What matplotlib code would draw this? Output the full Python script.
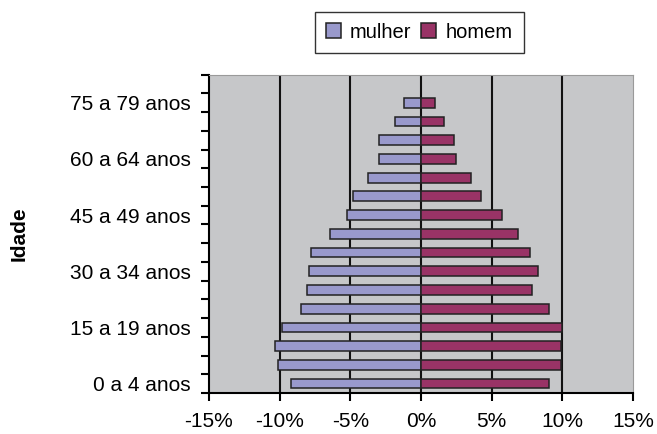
import numpy as np
from matplotlib import pyplot as plt

plt.rcParams['font.family'] = ['Liberation Sans', 'DejaVu Sans']

# faixas etarias (de baixo para cima)
idades = ['0 a 4 anos', '5 a 9 anos', '10 a 14 anos', '15 a 19 anos', '20 a 24 anos',
          '25 a 29 anos', '30 a 34 anos', '35 a 39 anos', '40 a 44 anos', '45 a 49 anos',
          '50 a 54 anos', '55 a 59 anos', '60 a 64 anos', '65 a 69 anos', '70 a 74 anos',
          '75 a 79 anos']
# % da populacao
mulher = [9.16, 10.1, 10.36, 9.84, 8.47, 8.09, 7.95, 7.79, 6.44, 5.24,
          4.84, 3.75, 2.95, 2.95, 1.87, 1.2]
homem = [9.06, 9.88, 9.88, 9.98, 9.06, 7.85, 8.25, 7.71, 6.89, 5.71,
         4.25, 3.54, 2.45, 2.33, 1.65, 1.0]
xticks = [-15, -10, -5, 0, 5, 10, 15]

fig = plt.figure(figsize=(6.57, 4.34), dpi=100)
ax = fig.add_axes([0.318, 0.0945, 0.6455, 0.7335])
ax.set_facecolor('#c6c7c9')

y = np.arange(len(idades))
ax.barh(y, [-v for v in mulher], height=0.52, color='#9999cc', edgecolor='#222222', linewidth=1.1, label='mulher', zorder=3)
ax.barh(y, homem, height=0.52, color='#993366', edgecolor='#222222', linewidth=1.1, label='homem', zorder=3)

ax.set_xlim(-15, 15)
ax.set_ylim(-0.5, len(idades) + 0.5)
ax.set_xticks(xticks)
ax.set_xticklabels([f'{t}%' for t in xticks])
for t in xticks[1:-1]:
    ax.axvline(t, color='#111111', linewidth=1.5, zorder=2)

ax.set_yticks(np.arange(-0.5, len(idades) + 1))
ax.set_yticklabels([])
ax.set_yticks(y[::3], [idades[i] for i in y[::3]], minor=True)
ax.tick_params(axis='y', which='minor', length=0, pad=13, labelsize=15)
ax.tick_params(axis='y', which='major', direction='out', length=6, width=1.5)
ax.tick_params(axis='x', direction='out', length=6, width=1.5, labelsize=15, pad=8)

ax.spines['left'].set_linewidth(1.5)
ax.spines['bottom'].set_linewidth(1.5)
ax.spines['top'].set_color('#9a9a9a')
ax.spines['right'].set_color('#9a9a9a')

fig.text(0.029, 0.461, 'Idade', rotation=90, fontsize=15, fontweight='bold', ha='center', va='center')

leg = fig.legend(loc='center', bbox_to_anchor=(0.638, 0.926), ncol=2, fontsize=14.5, frameon=True,
                 fancybox=False, edgecolor='black', handlelength=0.75, handleheight=0.75,
                 handletextpad=0.45, columnspacing=0.5, borderpad=0.55, borderaxespad=0)
leg.get_frame().set_linewidth(1.0)

fig.savefig('out.png', dpi=100)
